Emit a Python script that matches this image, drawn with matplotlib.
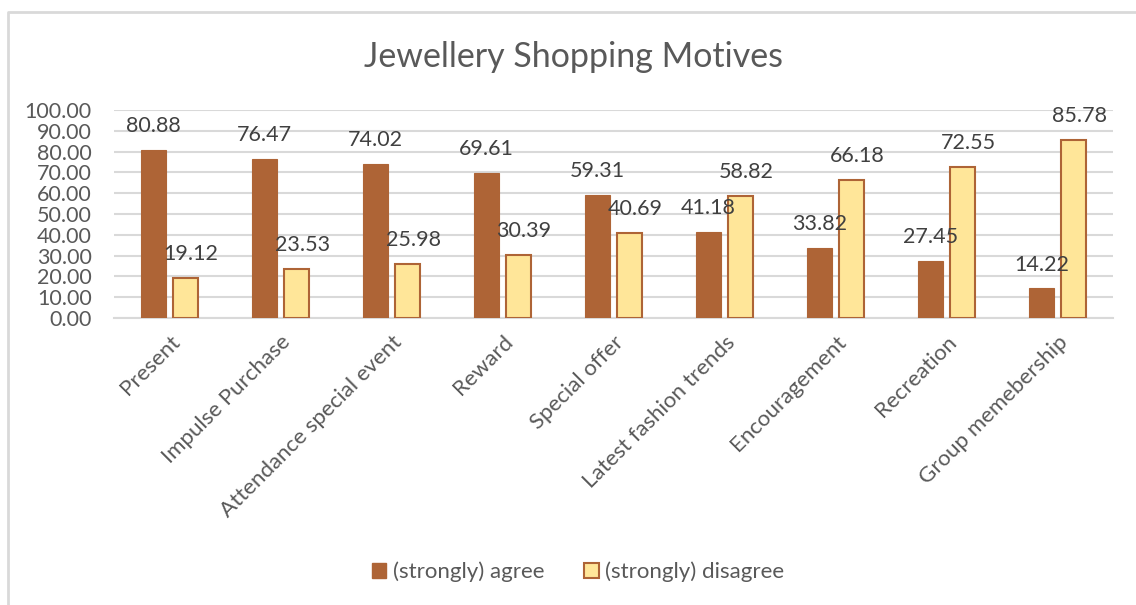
import matplotlib
matplotlib.use("Agg")
import matplotlib.pyplot as plt
from matplotlib.lines import Line2D
from matplotlib.patches import Patch
import numpy as np

categories = ["Present", "Impulse Purchase", "Attendance special event", "Reward",
              "Special offer", "Latest fashion trends", "Encouragement", "Recreation",
              "Group memebership"]
agree = [80.88, 76.47, 74.02, 69.61, 59.31, 41.18, 33.82, 27.45, 14.22]
disagree = [19.12, 23.53, 25.98, 30.39, 40.69, 58.82, 66.18, 72.55, 85.78]
series_names = ["(strongly) agree", "(strongly) disagree"]
yticks = [0, 10, 20, 30, 40, 50, 60, 70, 80, 90, 100]

plt.rcParams['font.family'] = ['Lato', 'DejaVu Sans']
TXT = "#595959"
AGREE = "#AE6436"
DIS_FILL = "#FFE699"
W, H = 1136, 605
fig = plt.figure(figsize=(W/100, H/100), dpi=100)
ax = fig.add_axes([114/W, 1-318/H, (1113-114)/W, (318-110)/H])

x = np.arange(len(categories))
bw = 0.22
off = 0.145
ax.bar(x - off, agree, bw, color=AGREE, edgecolor=AGREE, linewidth=0.8, zorder=3)
ax.bar(x + off, disagree, bw, color=DIS_FILL, edgecolor=AGREE, linewidth=1.5, zorder=3)

for xi, v in zip(x, agree):
    ax.annotate(f"{v:.2f}", (xi - off, v), xytext=(0, 10), textcoords="offset points",
                ha="center", va="bottom", fontsize=15.5, color="#404040")
for xi, v in zip(x, disagree):
    ax.annotate(f"{v:.2f}", (xi + off, v), xytext=(4, 10), textcoords="offset points",
                ha="center", va="bottom", fontsize=15.5, color="#404040")

ax.set_xlim(-0.5, len(categories) - 0.5)
ax.set_ylim(0, 100)
ax.set_yticks(yticks)
ax.set_yticklabels([f"{t:.2f}" for t in yticks], fontsize=15.5, color=TXT)
ax.set_xticks(x)
ax.set_xticklabels(categories, rotation=45, ha="right", rotation_mode="anchor",
                   fontsize=16, color=TXT)
ax.tick_params(axis="both", length=0)
ax.tick_params(axis="y", pad=16)
ax.tick_params(axis="x", pad=10)
ax.grid(axis="y", color="#D9D9D9", linewidth=1.5, zorder=0)
for s in ["top", "right", "left"]:
    ax.spines[s].set_visible(False)
ax.spines["bottom"].set_color("#D9D9D9")
ax.spines["bottom"].set_linewidth(1.5)

fig.text(573/W, 1-57/H, "Jewellery Shopping Motives", ha="center", va="center",
         fontsize=24.5, color=TXT)

handles = [Patch(facecolor=AGREE, edgecolor=AGREE),
           Patch(facecolor=DIS_FILL, edgecolor=AGREE, linewidth=1.5)]
fig.legend(handles, series_names, loc="center", bbox_to_anchor=(578/W, 1-572/H),
           ncol=2, frameon=False, fontsize=16, labelcolor=TXT,
           handlelength=0.65, handleheight=0.65, handletextpad=0.3, columnspacing=1.8)

# chart border
fig.add_artist(Line2D([7.5/W, 7.5/W, 1.0], [0, 1-11.5/H, 1-11.5/H],
                      transform=fig.transFigure, color="#D9D9D9", linewidth=2))

fig.savefig("out.png", dpi=100)
